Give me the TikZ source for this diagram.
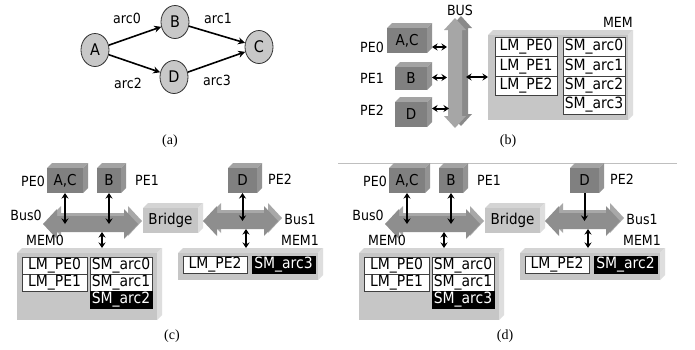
\documentclass[tikz,border=0pt]{standalone}
\usepackage{fontspec}
\setmainfont{DejaVu Sans}[FakeStretch=0.9]
\newfontfamily\capfont{Liberation Serif}
\usetikzlibrary{arrows.meta,shapes.geometric}
\definecolor{pefront}{HTML}{808080}
\definecolor{petop}{HTML}{A3A3A3}
\definecolor{peside}{HTML}{939393}
\definecolor{memface}{HTML}{C6C6C6}
\definecolor{memtop}{HTML}{D4D4D4}
\definecolor{memside}{HTML}{DEDEDE}
\definecolor{busfront}{HTML}{8E8E8E}
\definecolor{bustop}{HTML}{A8A8A8}
\definecolor{vbusfront}{HTML}{A6A6A6}
\definecolor{vbusside}{HTML}{8A8A8A}
\definecolor{nodefill}{HTML}{C8C8C8}
\tikzset{
  lbl/.style={font=\fontsize{14}{14}\selectfont, inner sep=0},
  boxtxt/.style={font=\fontsize{15}{15}\selectfont, inner sep=0, outer sep=0},
  circ/.style={ellipse, draw=black!80, line width=0.8pt, fill=nodefill, minimum width=28pt, minimum height=33pt, inner sep=0, font=\fontsize{16}{16}\selectfont},
  graphedge/.style={line width=1.6pt, -{Stealth[length=7pt,width=7pt]}},
  dbl/.style={line width=2pt, {Stealth[length=5.5pt,width=7pt]}-{Stealth[length=5.5pt,width=7pt]}},
  dn/.style={line width=2pt, -{Stealth[length=5.5pt,width=7pt]}},
  cellw/.style={draw=black!75, line width=0.8pt, fill=white, inner sep=0, outer sep=0, text height=11pt, text depth=3pt, font=\fontsize{15.5}{15.5}\selectfont},
  cellb/.style={draw=black, line width=0.8pt, fill=black, text=white, inner sep=0, outer sep=0, text height=11pt, text depth=3pt, font=\fontsize{15.5}{15.5}\selectfont},
  captxt/.style={font=\capfont\fontsize{14}{14}\selectfont, inner sep=0}
}
% 3D box: name, x1, y1, x2, y2 (front face), depth, kind, text
\newcommand\threed[8]{%
  \fill[#7top] (#2,#3) -- (#2+#6,#3-#6) -- (#4+#6,#3-#6) -- (#4,#3) -- cycle;
  \fill[#7side] (#4,#3) -- (#4+#6,#3-#6) -- (#4+#6,#5-#6) -- (#4,#5) -- cycle;
  \node[boxtxt, fill=#7face, minimum width={(#4-#2)*1pt}, minimum height={(#5-#3)*1pt}] (#1) at ({(#2+#4)/2},{(#3+#5)/2}) {#8};
}
\colorlet{peface}{pefront}
% table cell: name, x1, y1, x2, y2, style, text
\newcommand\cell[7]{%
  \node[#6, minimum width={(#4-#2)*1pt}, minimum height={(#5-#3)*1pt}] (#1) at ({(#2+#4)/2},{(#3+#5)/2}) {#7};
}
% horizontal bus: name, xl, xr, yc
\newcommand\hbus[4]{%
  \begin{scope}[shift={(4,-3)}]
  \fill[bustop] (#2,#4) -- (#2+14,#4-15) -- (#2+14,#4-8) -- (#3-14,#4-8) -- (#3-14,#4-15) -- (#3,#4) -- (#3-14,#4+15) -- (#3-14,#4+8) -- (#2+14,#4+8) -- (#2+14,#4+15) -- cycle;
  \end{scope}
  \fill[busfront] (#2,#4) -- (#2+14,#4-15) -- (#2+14,#4-8) -- (#3-14,#4-8) -- (#3-14,#4-15) -- (#3,#4) -- (#3-14,#4+15) -- (#3-14,#4+8) -- (#2+14,#4+8) -- (#2+14,#4+15) -- cycle;
  \coordinate (#1) at ({(#2+#3)/2},#4);
}
% panel c / d: suffix, black left, black right, D arrow style
\newcommand\panelcd[4]{%
  \threed{ac#1}{47}{168}{83}{193}{5}{pe}{A,C}
  \threed{b#1}{97}{168}{121}{193}{5}{pe}{B}
  \threed{d#1}{228}{168}{257}{193}{5}{pe}{D}
  \node[lbl, anchor=east] (pe0#1) at (45,181) {PE0};
  \node[lbl] (pe1#1) at (147,180) {PE1};
  \node[lbl] (pe2#1) at (280,179) {PE2};
  \hbus{bus0#1}{43}{138}{224}
  \threed{br#1}{143}{208}{198}{233}{5}{mem}{Bridge}
  \hbus{bus1#1}{203}{278}{221}
  \node[lbl] (bus0l#1) at (26,215) {Bus0};
  \node[lbl] (bus1l#1) at (300,219) {Bus1};
  \node[lbl] (mem0l#1) at (45,240) {MEM0};
  \node[lbl] (mem1l#1) at (300,240) {MEM1};
  \threed{mem0#1}{17}{253}{157}{320}{5}{mem}{}
  \threed{mem1#1}{178}{253}{318}{280}{5}{mem}{}
  \cell{lm0#1}{22}{257}{87}{274}{cellw}{LM\_PE0}
  \cell{lm1#1}{22}{274}{87}{291}{cellw}{LM\_PE1}
  \cell{sm0#1}{90}{257}{152}{274}{cellw}{SM\_arc0}
  \cell{sm1#1}{90}{274}{152}{291}{cellw}{SM\_arc1}
  \cell{smx#1}{90}{291}{152}{308}{cellb}{#2}
  \cell{lm2#1}{183}{256}{247}{273}{cellw}{LM\_PE2}
  \cell{smy#1}{252}{256}{315}{273}{cellb}{#3}
  \draw[dbl] (ac#1.south) -- (ac#1.south |- bus0#1);
  \draw[dbl] (b#1.south) -- (b#1.south |- bus0#1);
  \coordinate (b0d#1) at (102,232);
  \coordinate (m0t#1) at ([yshift=5pt]mem0#1.north);
  \draw[dbl] (b0d#1) -- (b0d#1 |- m0t#1);
  \draw[#4] (d#1.south) -- (d#1.south |- bus1#1);
  \coordinate (b1d#1) at (246,229);
  \coordinate (m1t#1) at ([yshift=5pt]mem1#1.north);
  \draw[dbl] (b1d#1) -- (b1d#1 |- m1t#1);
}
\begin{document}
\begin{tikzpicture}[x=1pt,y=-1pt]
\fill[white] (0,0) rectangle (695,349);
\useasboundingbox (0,0) rectangle (695,349);
% ---------- (a)
\node[circ] (A) at (95,50) {A};
\node[circ] (B) at (175,22) {B};
\node[circ] (D) at (174,77) {D};
\node[circ] (C) at (259,47) {C};
\draw[graphedge] (A) -- (B);
\draw[graphedge] (A) -- (D);
\draw[graphedge] (B) -- (C);
\draw[graphedge] (D) -- (C);
\node[lbl] (l0) at (127,18) {arc0};
\node[lbl] (l2) at (128,83) {arc2};
\node[lbl] (l1) at (218,18) {arc1};
\node[lbl] (l3) at (217,80) {arc3};
\node[captxt] (capa) at (170,141) {(a)};
% ---------- (b)
\threed{acb}{387}{28}{427}{53}{5}{pe}{A,C}
\threed{bb}{395}{67}{427}{90}{5}{pe}{B}
\threed{db}{395}{102}{427}{127}{5}{pe}{D}
\node[lbl, anchor=east] (pe0b) at (384,47) {PE0};
\node[lbl, anchor=east] (pe1b) at (384,78) {PE1};
\node[lbl, anchor=east] (pe2b) at (384,110) {PE2};
\begin{scope}[shift={(6,-2)}]
\fill[vbusside] (455,18) -- (466,30) -- (462,30) -- (462,116) -- (466,116) -- (455,128) -- (444,116) -- (448,116) -- (448,30) -- (444,30) -- cycle;
\end{scope}
\fill[vbusfront] (455,18) -- (466,30) -- (462,30) -- (462,116) -- (466,116) -- (455,128) -- (444,116) -- (448,116) -- (448,30) -- (444,30) -- cycle;
\node[lbl] (busl) at (460,10) {BUS};
\coordinate (busbL) at (447,77);
\coordinate (busbR) at (466,77);
\coordinate (acP) at ([xshift=5pt,yshift=-6.5pt]acb.east);
\coordinate (bP) at ([xshift=5pt,yshift=1pt]bb.east);
\coordinate (dP) at ([xshift=5pt,yshift=6pt]db.east);
\draw[dbl] (acP) -- (acP -| busbL);
\draw[dbl] (bP) -- (bP -| busbL);
\draw[dbl] (dP) -- ([xshift=2pt]dP -| busbL);
\threed{memb}{488}{35}{628}{120}{5}{mem}{}
\draw[dbl] (busbR) -- (busbR -| memb.west);
\node[lbl, anchor=east] (meml) at (633,22) {MEM};
\cell{lmb0}{495}{37}{557}{56}{cellw}{LM\_PE0}
\cell{lmb1}{495}{56}{557}{76}{cellw}{LM\_PE1}
\cell{lmb2}{495}{76}{557}{95}{cellw}{LM\_PE2}
\cell{smb0}{563}{37}{625}{56}{cellw}{SM\_arc0}
\cell{smb1}{563}{56}{625}{76}{cellw}{SM\_arc1}
\cell{smb2}{563}{76}{625}{95}{cellw}{SM\_arc2}
\cell{smb3}{563}{95}{625}{114}{cellw}{SM\_arc3}
\node[captxt] (capb) at (508,141) {(b)};
% ---------- (c)
\panelcd{c}{SM\_arc2}{SM\_arc3}{dbl}
\node[captxt] (capc) at (172,336) {(c)};
% ---------- (d)
\draw[black!25, line width=0.6pt] (338,163) -- (677,163);
\begin{scope}[xshift=342pt]
\panelcd{d}{SM\_arc3}{SM\_arc2}{dn}
\end{scope}
\node[captxt] (capd) at (505,336) {(d)};
\end{tikzpicture}
\end{document}
